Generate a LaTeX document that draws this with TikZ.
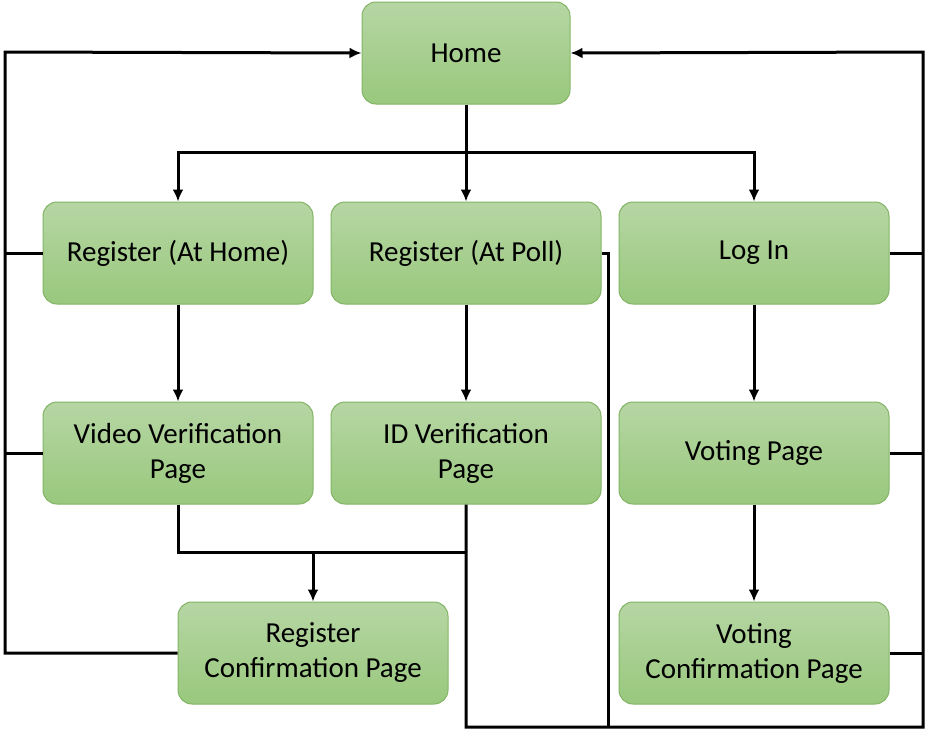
\documentclass[tikz,border=0pt]{standalone}
\usepackage{fontspec}
\setmainfont{Carlito}
\usetikzlibrary{arrows.meta}
\definecolor{boxtop}{RGB}{182,214,164}
\definecolor{boxbot}{RGB}{153,200,125}
\definecolor{boxline}{RGB}{130,180,100}
\begin{document}
\begin{tikzpicture}[x=1pt, y=-1pt]

      \tikzset{page/.style={draw=boxline, line width=1pt, rounded corners=14pt, top color=boxtop, bottom color=boxbot,
               minimum width=270pt, minimum height=102pt, align=center, font=\fontsize{29}{35}\selectfont},
               link/.style={line width=3pt, >={Latex[length=12pt,width=11pt]}}}
      \useasboundingbox (0,0) rectangle (927,729);
%% Pages
      	\node[page, minimum width=208pt] (home) at (466,53) {Home};
      	\node[page] (regHome) at (178,253) {Register (At Home)};
      	\node[page] (regPoll) at (466,253) {Register (At Poll)};
      	\node[page] (login) at (754,253) {Log In};
      	\node[page] (videoVer) at (178,453) {Video Verification\\Page};
      	\node[page] (idVer) at (466,453) {ID Verification\\Page};
      	\node[page] (voting) at (754,453) {Voting Page};
      	\node[page] (regConf) at (313,653) {Register\\Confirmation Page};
      	\node[page] (voteConf) at (754,653) {Voting\\Confirmation Page};
%% Bends
      	\coordinate (hsplit) at (466,152);
      	\coordinate (merge) at (313,552);
      	\coordinate (leftTop) at (5,52);
      	\coordinate (rightTop) at (923,52);
      	\coordinate (rightBot) at (923,727);
      	\coordinate (pollDrop) at (608,727);
%Links
		\draw[link] (home.south) -- (hsplit);
		\draw[link, ->] (hsplit) -| (regHome.north);
		\draw[link, ->] (hsplit) -- (regPoll.north);
		\draw[link, ->] (hsplit) -| (login.north);
		\draw[link, ->] (regHome) -- (videoVer);
		\draw[link, ->] (regPoll) -- (idVer);
		\draw[link, ->] (login) -- (voting);
		\draw[link, ->] (voting) -- (voteConf);
		\draw[link] (videoVer.south) |- (merge -| idVer.south);
		\draw[link, ->] (merge) -- (regConf.north);
%Back to home, left side
		\draw[link, ->] (regConf.west) -| (leftTop) -- (home.west);
		\draw[link] (regHome.west) -- (regHome.west -| leftTop);
		\draw[link] (videoVer.west) -- (videoVer.west -| leftTop);
%Back to home, right side
		\draw[link, ->] (idVer.south) |- (rightBot) -- (rightTop) -- (home.east);
		\draw[link] (regPoll.east) -| (pollDrop);
		\draw[link] (login.east) -- (login.east -| rightTop);
		\draw[link] (voting.east) -- (voting.east -| rightTop);
		\draw[link] (voteConf.east) -- (voteConf.east -| rightTop);

	\end{tikzpicture}
\end{document}
